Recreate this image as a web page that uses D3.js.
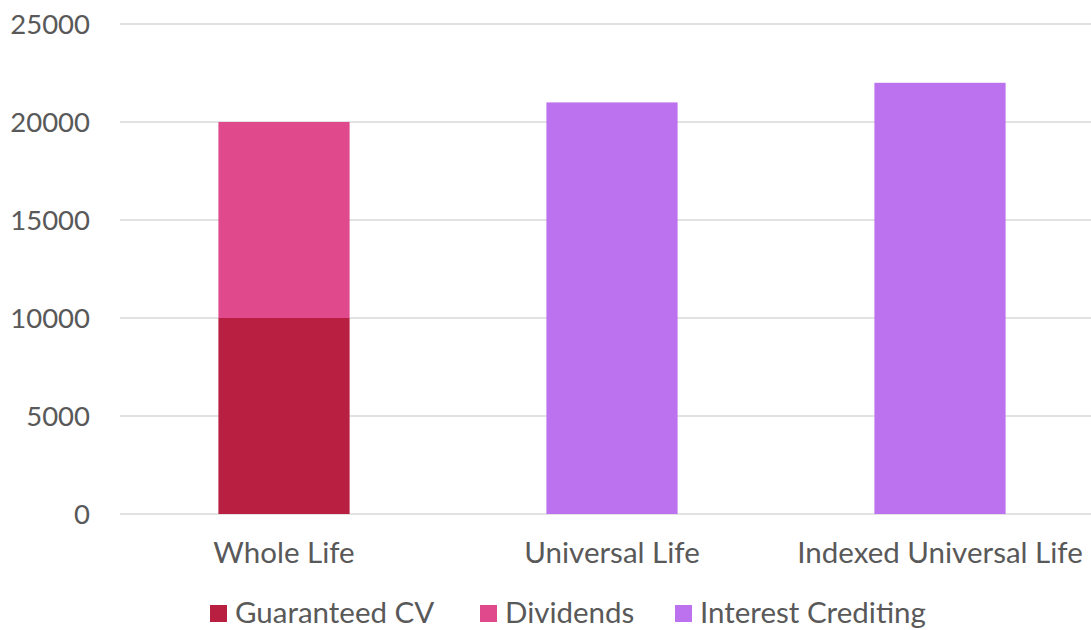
<!DOCTYPE html>
<html>
<head>
<meta charset="utf-8">
<script src="https://cdn.jsdelivr.net/npm/d3@7"></script>
<style>
  html, body { margin: 0; padding: 0; background: #fff; }
  svg { display: block; }
  text { font-family: "Gill Sans", "Lato", "Noto Sans", sans-serif; fill: #595959; }
</style>
</head>
<body>
<svg id="chart" width="1091" height="630"></svg>
<script>
// Policy types along the x axis
const categories = ["Whole Life", "Universal Life", "Indexed Universal Life"];
// Cash value components, one value per policy type
const guaranteedCV = [10000, 0, 0];
const dividends = [10000, 0, 0];
const interestCrediting = [0, 21000, 22000];
const yTicks = [0, 5000, 10000, 15000, 20000, 25000];

const seriesNames = ["Guaranteed CV", "Dividends", "Interest Crediting"];
const seriesColors = ["#b91f41", "#e04a8c", "#bc72ee"];

const rows = categories.map((c, i) => ({
  category: c,
  "Guaranteed CV": guaranteedCV[i],
  "Dividends": dividends[i],
  "Interest Crediting": interestCrediting[i]
}));

const svg = d3.select("#chart");
const plot = { left: 120, right: 1104, top: 24, bottom: 514 };

const x = d3.scaleBand().domain(categories).range([plot.left, plot.right]).padding(0);
const y = d3.scaleLinear().domain([0, 25000]).range([plot.bottom, plot.top]);
const color = d3.scaleOrdinal().domain(seriesNames).range(seriesColors);

// Horizontal gridlines
svg.append("g")
  .selectAll("line")
  .data(yTicks)
  .join("line")
  .attr("x1", plot.left)
  .attr("x2", 1091)
  .attr("y1", d => y(d))
  .attr("y2", d => y(d))
  .attr("stroke", "#d9d9d9")
  .attr("stroke-width", 1.5);

// Y axis labels
svg.append("g")
  .selectAll("text")
  .data(yTicks)
  .join("text")
  .attr("x", 90)
  .attr("y", d => y(d))
  .attr("dy", "0.35em")
  .attr("text-anchor", "end")
  .style("font-size", "27.5px")
  .text(d => d);

// Stacked bars
const stack = d3.stack().keys(seriesNames)(rows);
const barW = x.bandwidth() * 0.4;

svg.append("g")
  .selectAll("g")
  .data(stack)
  .join("g")
  .attr("fill", d => color(d.key))
  .selectAll("rect")
  .data(d => d.filter(s => s[1] - s[0] > 0))
  .join("rect")
  .attr("x", d => x(d.data.category) + (x.bandwidth() - barW) / 2)
  .attr("width", barW)
  .attr("y", d => y(d[1]))
  .attr("height", d => y(d[0]) - y(d[1]));

// Category labels
svg.append("g")
  .selectAll("text")
  .data(categories)
  .join("text")
  .attr("x", d => x(d) + x.bandwidth() / 2)
  .attr("y", 563)
  .attr("text-anchor", "middle")
  .style("font-size", "29.5px")
  .text(d => d);

// Legend
const legendX = [210, 480, 675];
const legend = svg.append("g")
  .selectAll("g")
  .data(seriesNames)
  .join("g")
  .attr("transform", (d, i) => `translate(${legendX[i]},605)`);
legend.append("rect")
  .attr("width", 17)
  .attr("height", 17)
  .attr("fill", d => color(d));
legend.append("text")
  .attr("x", 25)
  .attr("y", 18)
  .style("font-size", "29.5px")
  .text(d => d);
</script>
</body>
</html>
